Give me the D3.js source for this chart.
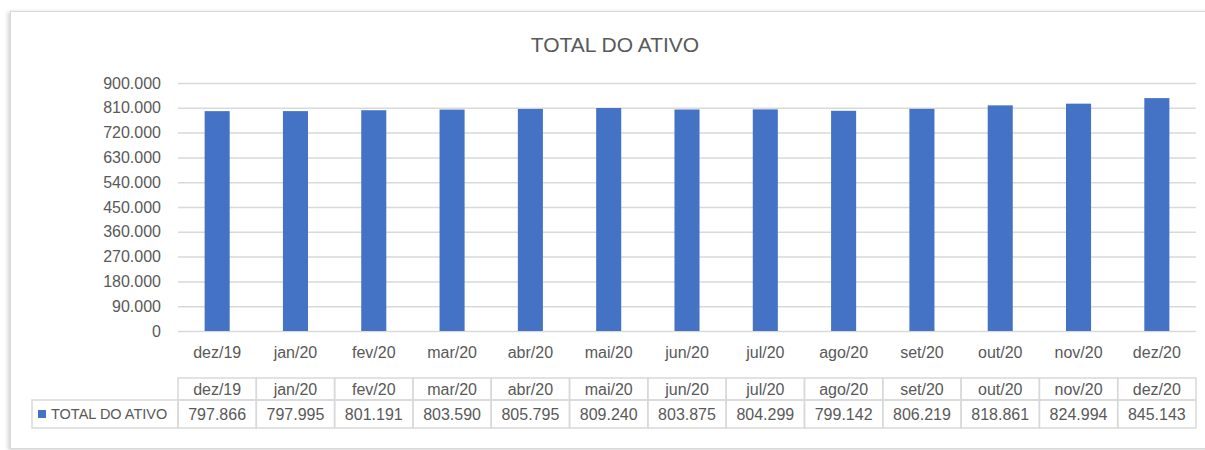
<!DOCTYPE html>
<html>
<head>
<meta charset="utf-8">
<title>TOTAL DO ATIVO</title>
<script src="https://d3js.org/d3.v7.min.js"></script>
<style>
    body { margin: 0; background: #fff; }
    text { font-family: "Liberation Sans", Arial, sans-serif; fill: #595959; }
    .grid line { stroke: #d9d9d9; }
    .cell { fill: none; stroke: #d9d9d9; }
</style>
</head>
<body>
<div id="chart"></div>
<script>
    // Dados
    const categories = ["dez/19", "jan/20", "fev/20", "mar/20", "abr/20", "mai/20", "jun/20",
        "jul/20", "ago/20", "set/20", "out/20", "nov/20", "dez/20"];
    const values = [797866, 797995, 801191, 803590, 805795, 809240, 803875,
        804299, 799142, 806219, 818861, 824994, 845143];
    const yTicks = [0, 90000, 180000, 270000, 360000, 450000, 540000, 630000, 720000, 810000, 900000];
    const seriesName = "TOTAL DO ATIVO";

    const W = 1205, H = 450;
    const plot = {left: 178, right: 1196, top: 83, bottom: 331};
    const fmt = d3.formatLocale({decimal: ",", thousands: ".", grouping: [3], currency: ["R$", ""]}).format(",d");

    const svg = d3.select("#chart").append("svg")
        .attr("width", W)
        .attr("height", H);

    // sombra da moldura
    const defs = svg.append("defs");
    const f = defs.append("filter").attr("id", "shadow")
        .attr("x", "-5%").attr("y", "-5%").attr("width", "110%").attr("height", "110%");
    f.append("feDropShadow").attr("dx", -2).attr("dy", 1).attr("stdDeviation", 2)
        .attr("flood-color", "#000").attr("flood-opacity", 0.18);

    svg.append("rect")
        .attr("x", 10.5).attr("y", 11.5)
        .attr("width", 1215).attr("height", 437)
        .attr("fill", "#fff")
        .attr("stroke", "#d9d9d9")
        .attr("filter", "url(#shadow)");

    // Título
    svg.append("text")
        .attr("x", 615).attr("y", 52)
        .attr("text-anchor", "middle")
        .style("font-size", "21px")
        .text(seriesName);

    // Escalas
    const x = d3.scaleBand()
        .domain(categories)
        .range([plot.left, plot.right])
        .paddingInner(0.68)
        .paddingOuter(0.34);
    const band = (plot.right - plot.left) / categories.length;
    const y = d3.scaleLinear()
        .domain([0, 900000])
        .range([plot.bottom, plot.top]);

    // Grade e eixo Y
    const yAxis = svg.append("g")
        .attr("class", "grid")
        .attr("transform", "translate(" + plot.left + ",0)")
        .call(d3.axisLeft(y)
            .tickValues(yTicks)
            .tickSize(-(plot.right - plot.left))
            .tickPadding(17)
            .tickFormat(fmt));
    yAxis.select(".domain").remove();
    yAxis.selectAll("line").attr("stroke", "#d9d9d9").attr("stroke-width", 1.5);
    yAxis.selectAll("text").style("font-size", "16px").attr("fill", "#595959");

    // Barras
    svg.selectAll(".bar")
        .data(values)
        .enter().append("rect")
        .attr("class", "bar")
        .attr("fill", "#4472c4")
        .attr("x", (d, i) => x(categories[i]))
        .attr("width", x.bandwidth())
        .attr("y", d => y(d))
        .attr("height", d => y(0) - y(d));

    // Eixo X
    const xAxis = svg.append("g")
        .attr("transform", "translate(0," + plot.bottom + ")")
        .call(d3.axisBottom(x).tickSize(0).tickPadding(16));
    xAxis.select(".domain").remove();
    xAxis.selectAll("text").style("font-size", "16px").attr("fill", "#595959");

    // Tabela de dados
    const row1 = 378, row2 = 400, row3 = 428;
    const table = svg.append("g");
    categories.forEach((c, i) => {
        const cx = plot.left + i * band;
        table.append("rect").attr("class", "cell")
            .attr("x", cx).attr("y", row1).attr("width", band).attr("height", row2 - row1)
            .attr("stroke-width", 1.5);
        table.append("rect").attr("class", "cell")
            .attr("x", cx).attr("y", row2).attr("width", band).attr("height", row3 - row2)
            .attr("stroke-width", 1.5);
        table.append("text")
            .attr("x", cx + band / 2).attr("y", (row1 + row2) / 2)
            .attr("dy", "0.35em")
            .attr("text-anchor", "middle")
            .style("font-size", "16px")
            .text(c);
        table.append("text")
            .attr("x", cx + band / 2).attr("y", (row2 + row3) / 2)
            .attr("dy", "0.35em")
            .attr("text-anchor", "middle")
            .style("font-size", "16px")
            .text(fmt(values[i]));
    });

    // Legenda na tabela
    table.append("rect").attr("class", "cell")
        .attr("x", 32).attr("y", row2).attr("width", plot.left - 32).attr("height", row3 - row2)
        .attr("stroke-width", 1.5);
    table.append("rect")
        .attr("x", 38).attr("y", (row2 + row3) / 2 - 4)
        .attr("width", 8).attr("height", 8)
        .attr("fill", "#4472c4");
    table.append("text")
        .attr("x", 51).attr("y", (row2 + row3) / 2)
        .attr("dy", "0.35em")
        .style("font-size", "14.5px")
        .text(seriesName);
</script>
</body>
</html>
